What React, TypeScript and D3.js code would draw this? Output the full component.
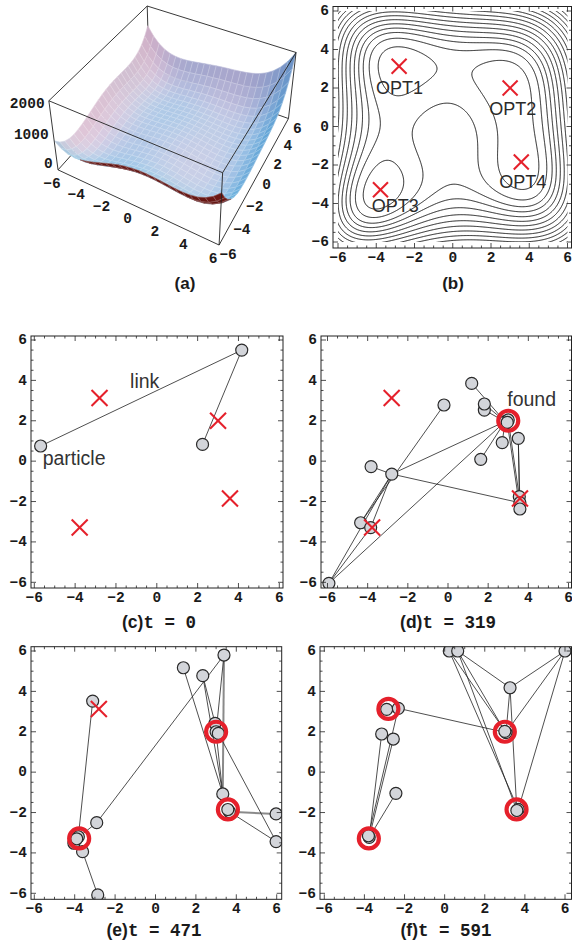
import React from "react";
import * as d3 from "d3";

const W = 572;
const H = 942;

// ---------- data ----------
const optX = [-2.805, 3.0, -3.779, 3.584];
const optY = [3.131, 2.0, -3.283, -1.848];
const optNames = ["OPT1", "OPT2", "OPT3", "OPT4"];
const axisTicks = [-6, -4, -2, 0, 2, 4, 6];
const zTicks = [0, 1000, 2000];
const contourLevels = [55, 128, 200, 270, 352, 445, 549, 664, 790, 927, 1073, 1232, 1400, 1580, 1770, 1970, 2180];

// (c) t = 0
const cX = [-5.69, 4.16, 2.24];
const cY = [0.75, 5.5, 0.83];
const cLinks = [[0, 1], [1, 2]];
const cFound: number[] = [];

// (d) t = 319
const dX = [-5.93, -4.35, -3.85, -3.83, -2.8, -0.2, 1.18, 1.81, 1.81, 2.7, 3.5, 1.63, 2.84, 3.0, 3.55, 3.58, 3.58, 2.95];
const dY = [-6.05, -3.05, -3.29, -0.27, -0.64, 2.78, 3.85, 2.53, 2.83, 0.92, 1.13, 0.09, 1.96, 2.04, -1.76, -2.06, -2.37, 1.92];
const dLinks = [[0, 4], [0, 2], [0, 12], [1, 4], [2, 4], [5, 1], [3, 4], [4, 12], [4, 15], [6, 12], [8, 12], [7, 12], [11, 12], [9, 12], [10, 14], [10, 15], [13, 14], [17, 16]];
const dFound = [1];

// (e) t = 471
const eX = [-3.11, 1.38, 2.34, 3.39, 2.95, 3.0, 3.11, 3.33, 3.66, 5.97, 5.97, -2.91, -3.82, -4.04, -3.61, -2.86, 3.58, -3.9];
const eY = [3.52, 5.17, 4.78, 5.8, 2.42, 2.0, 1.92, -1.08, -1.96, -2.07, -3.44, -2.5, -3.2, -3.52, -3.94, -6.08, -1.85, -3.3];
const eLinks = [[0, 12], [11, 3], [17, 11], [13, 14], [14, 15], [1, 7], [2, 4], [2, 7], [3, 5], [6, 10], [8, 10], [4, 7]];
const eGrayLinks = [[3, 7], [8, 9]];
const eFound = [1, 2, 3];

// (f) t = 591
const fX = [0.23, 0.65, 6.0, 3.26, -2.89, -2.31, -3.14, -2.56, -2.43, 3.06, 3.67, -3.76, 3.0, 3.6, -3.8];
const fY = [6.0, 6.0, 6.0, 4.18, 3.11, 3.16, 1.89, 1.64, -1.05, 1.96, -1.84, -3.23, 2.02, -1.9, -3.15];
const fLinks = [[5, 9], [6, 11], [7, 11], [5, 14], [8, 11], [0, 9], [1, 12], [0, 10], [1, 13], [1, 3], [2, 3], [2, 9], [2, 10], [3, 9], [3, 13]];
const fFound = [0, 1, 2, 3];

// the plotted objective (Himmelblau function)
const objective = (x: number, y: number) => (x * x + y - 11) ** 2 + (x + y * y - 7) ** 2;

// ---------- styles ----------
const RED = "#e5202b";
const MONO = "'Liberation Mono', 'Courier New', monospace";
const SANS = "'Liberation Sans', Arial, sans-serif";
const TICK_FS = 14.5;

const fmt = (v: number) => (v < 0 ? "\u2212" + Math.abs(v) : String(v));

type Cfg = { fx0: number; fx1: number; fy0: number; fy1: number; ax0: number; ax1: number; ay0: number; ay1: number };

const cfgB: Cfg = { fx0: 333, fx1: 571.5, fy0: 6.5, fy1: 248, ax0: 338, ax1: 567.5, ay0: 242, ay1: 11 };
const cfgC: Cfg = { fx0: 31, fx1: 283, fy0: 336, fy1: 588, ax0: 34.3, ax1: 279.3, ay0: 582.3, ay1: 340 };
const cfgD: Cfg = { fx0: 321, fx1: 571.5, fy0: 336, fy1: 588, ax0: 327.5, ax1: 568.5, ay0: 582.3, ay1: 340 };
const cfgE: Cfg = { fx0: 31, fx1: 281.7, fy0: 646.7, fy1: 899.3, ax0: 34.3, ax1: 276.7, ay0: 893.3, ay1: 651 };
const cfgF: Cfg = { fx0: 320, fx1: 571.5, fy0: 646.7, fy1: 899.3, ax0: 324.3, ax1: 565, ay0: 893.3, ay1: 651 };

function scales(c: Cfg) {
  return {
    sx: d3.scaleLinear().domain([-6, 6]).range([c.ax0, c.ax1]),
    sy: d3.scaleLinear().domain([-6, 6]).range([c.ay0, c.ay1]),
  };
}

function Frame({ c }: { c: Cfg }) {
  const { sx, sy } = scales(c);
  const minors = d3.range(-6, 6.001, 0.5).filter((v) => Math.abs(v % 2) > 1e-6);
  const els: any[] = [];
  const tick = (v: number, len: number, key: string) => {
    const x = sx(v), y = sy(v);
    els.push(<line key={key + "b"} x1={x} x2={x} y1={c.fy1} y2={c.fy1 - len} />);
    els.push(<line key={key + "t"} x1={x} x2={x} y1={c.fy0} y2={c.fy0 + len} />);
    els.push(<line key={key + "l"} x1={c.fx0} x2={c.fx0 + len} y1={y} y2={y} />);
    els.push(<line key={key + "r"} x1={c.fx1} x2={c.fx1 - len} y1={y} y2={y} />);
  };
  axisTicks.forEach((v, i) => tick(v, 5, "M" + i));
  minors.forEach((v, i) => tick(v, 2.5, "m" + i));
  return (
    <g>
      <g stroke="#222" strokeWidth={0.8}>{els}</g>
      <rect x={c.fx0} y={c.fy0} width={c.fx1 - c.fx0} height={c.fy1 - c.fy0} fill="none" stroke="#222" strokeWidth={1} />
      <g fontFamily={MONO} fontWeight="bold" fontSize={TICK_FS} fill="#1a1a1a">
        {axisTicks.map((v) => (
          <text key={"xl" + v} x={sx(v)} y={c.fy1 + 14} textAnchor="middle">{fmt(v)}</text>
        ))}
        {axisTicks.map((v) => (
          <text key={"yl" + v} x={c.fx0 - 4} y={sy(v) + 4.3} textAnchor="end">{fmt(v)}</text>
        ))}
      </g>
    </g>
  );
}

function Cross({ x, y, s }: { x: number; y: number; s: number }) {
  return (
    <g stroke={RED} strokeWidth={2}>
      <line x1={x - s} y1={y - s} x2={x + s} y2={y + s} />
      <line x1={x - s} y1={y + s} x2={x + s} y2={y - s} />
    </g>
  );
}

function ScatterPanel(props: {
  c: Cfg; id: string; px: number[]; py: number[]; links: number[][]; grayLinks?: number[][]; found: number[];
  cap: string; tcap: string; capX: number; capY: number; notes?: { t: string; x: number; y: number }[];
}) {
  const { c, id, px, py, links, found } = props;
  const { sx, sy } = scales(c);
  const notFound = optX.map((_, i) => i).filter((i) => !found.includes(i));
  return (
    <g>
      <defs>
        <clipPath id={id}>
          <rect x={c.fx0} y={c.fy0} width={c.fx1 - c.fx0} height={c.fy1 - c.fy0} />
        </clipPath>
      </defs>
      <g clipPath={`url(#${id})`}>
        <g stroke="#8a8a8a" strokeWidth={2}>
          {(props.grayLinks || []).map(([a, b], i) => (
            <line key={i} x1={sx(px[a])} y1={sy(py[a])} x2={sx(px[b])} y2={sy(py[b])} />
          ))}
        </g>
        <g stroke="#222" strokeWidth={0.8}>
          {links.map(([a, b], i) => (
            <line key={i} x1={sx(px[a])} y1={sy(py[a])} x2={sx(px[b])} y2={sy(py[b])} />
          ))}
        </g>
        {px.map((_, i) => (
          <circle key={i} cx={sx(px[i])} cy={sy(py[i])} r={6} fill="#d3d5da" stroke="#2a2a2a" strokeWidth={1.2} />
        ))}
        {notFound.map((i) => (
          <Cross key={i} x={sx(optX[i])} y={sy(optY[i])} s={8} />
        ))}
        {found.map((i) => (
          <circle key={"f" + i} cx={sx(optX[i])} cy={sy(optY[i])} r={10} fill="none" stroke={RED} strokeWidth={4.2} />
        ))}
      </g>
      <Frame c={c} />
      {(props.notes || []).map((n, i) => (
        <text key={i} x={sx(n.x)} y={sy(n.y)} fontFamily={SANS} fontSize={19.5} fill="#333">{n.t}</text>
      ))}
      <text x={props.capX} y={props.capY} textAnchor="middle" fontWeight="bold" fontSize={17.5} fill="#1a1a1a">
        <tspan fontFamily={SANS}>{props.cap}</tspan>
        <tspan fontFamily={MONO}>{props.tcap}</tspan>
      </text>
    </g>
  );
}

function ContourPanel() {
  const c = cfgB;
  const { sx, sy } = scales(c);
  const step = 0.04;
  const g0 = -6.2;
  const n = Math.round(12.4 / step) + 1;
  const vals = new Array(n * n);
  for (let j = 0; j < n; j++) {
    const y = g0 + j * step;
    for (let i = 0; i < n; i++) vals[j * n + i] = objective(g0 + i * step, y);
  }
  const cs = d3.contours().size([n, n]).thresholds(contourLevels)(vals);
  const tr = d3.geoTransform({
    point: function (this: any, x: number, y: number) {
      this.stream.point(sx(g0 + (x - 0.5) * step), sy(g0 + (y - 0.5) * step));
    },
  });
  const path = d3.geoPath(tr as any);
  const labelPos = [[-4.01, 1.69], [1.91, 0.6], [-4.24, -4.43], [2.43, -3.21]];
  return (
    <g>
      <defs>
        <clipPath id="clipB">
          <rect x={sx(-6)} y={sy(6)} width={sx(6) - sx(-6)} height={sy(-6) - sy(6)} />
        </clipPath>
      </defs>
      <g clipPath="url(#clipB)" fill="none" stroke="#1e1e1e" strokeWidth={1}>
        {cs.map((g, i) => (
          <path key={i} d={path(g as any) || ""} />
        ))}
      </g>
      {optX.map((_, i) => (
        <Cross key={i} x={sx(optX[i])} y={sy(optY[i])} s={7.5} />
      ))}
      {optNames.map((t, i) => (
        <text key={t} x={sx(labelPos[i][0])} y={sy(labelPos[i][1])} fontFamily={SANS} fontSize={18} fill="#2a2a2a">{t}</text>
      ))}
      <Frame c={c} />
      <text x={453} y={289} textAnchor="middle" fontFamily={SANS} fontWeight="bold" fontSize={17} fill="#1a1a1a">(b)</text>
    </g>
  );
}

// ---------- 3D surface ----------
type V3 = [number, number, number];
const sub = (a: V3, b: V3): V3 => [a[0] - b[0], a[1] - b[1], a[2] - b[2]];
const dot = (a: V3, b: V3) => a[0] * b[0] + a[1] * b[1] + a[2] * b[2];
const cross = (a: V3, b: V3): V3 => [a[1] * b[2] - a[2] * b[1], a[2] * b[0] - a[0] * b[2], a[0] * b[1] - a[1] * b[0]];
const unit = (a: V3): V3 => {
  const l = Math.hypot(a[0], a[1], a[2]);
  return [a[0] / l, a[1] / l, a[2] / l];
};

function SurfacePanel() {
  const VP: V3 = [1.3, -2.4, 2];
  const ZLO = -120, ZHI = 2186;
  const KX = 594, KY = 708, CX = 178.6, CY = 110.4;
  const FWD = unit([-VP[0], -VP[1], -VP[2]]);
  const RIGHT = unit(cross(FWD, [0, 0, 1]));
  const UP = cross(RIGHT, FWD);
  const zs = d3.scaleLinear().domain([ZLO, ZHI]).range([-0.2, 0.2]);
  const toBox = (x: number, y: number, z: number): V3 => [x / 12, y / 12, zs(z)];
  const proj = (p: V3) => {
    const d = sub(p, VP);
    const depth = dot(d, FWD);
    return [CX + (KX * dot(d, RIGHT)) / depth, CY - (KY * dot(d, UP)) / depth, depth];
  };
  const N = 25;
  const gx = d3.range(N).map((i) => -6 + (12 * i) / (N - 1));
  const P: V3[][] = gx.map((x) => gx.map((y) => toBox(x, y, objective(x, y))));
  const quads: { d: string; depth: number; fill: string; stroke: string }[] = [];
  const cl = (v: number) => Math.max(0, Math.min(255, Math.round(v)));
  const tint: V3 = [196, 200, 226];
  for (let i = 0; i < N - 1; i++) {
    for (let j = 0; j < N - 1; j++) {
      const p00 = P[i][j], p10 = P[i + 1][j], p11 = P[i + 1][j + 1], p01 = P[i][j + 1];
      const nrm = unit(cross(sub(p11, p00), sub(p01, p10)));
      const cen: V3 = [
        (p00[0] + p10[0] + p11[0] + p01[0]) / 4,
        (p00[1] + p10[1] + p11[1] + p01[1]) / 4,
        (p00[2] + p10[2] + p11[2] + p01[2]) / 4,
      ];
      const vd = unit(sub(cen, VP));
      const facing = -dot(nrm, vd);
      const nr = dot(nrm, RIGHT), nu = dot(nrm, UP);
      let r: number, g: number, b: number;
      if (facing > 0.0) {
        r = 4.5 + 81.6 * nr + 76.5 * nu + 189.2 * facing;
        g = 92.9 + 31.9 * nr + 88.2 * nu + 65.9 * facing;
        b = 150.3 + 2 * nr + 72.5 * nu + 39.3 * facing;
        r = Math.min(255, r); g = Math.min(255, g); b = Math.min(255, b);
        const w = 0.34;
        r = r * (1 - w) + tint[0] * w;
        g = g * (1 - w) + tint[1] * w;
        b = b * (1 - w) + tint[2] * w;
      } else {
        const k = 0.8 + 0.4 * Math.min(1, -facing);
        r = 118 * k; g = 26 * k; b = 22 * k;
      }
      const fill = `rgb(${cl(r)},${cl(g)},${cl(b)})`;
      const stroke = `rgb(${cl(r + (255 - r) * 0.3)},${cl(g + (255 - g) * 0.3)},${cl(b + (255 - b) * 0.3)})`;
      const pts = [p00, p10, p11, p01].map((p) => proj(p));
      quads.push({
        d: "M" + pts.map((p) => p[0].toFixed(2) + "," + p[1].toFixed(2)).join("L") + "Z",
        depth: proj(cen)[2],
        fill,
        stroke,
      });
    }
  }
  quads.sort((a, b) => b.depth - a.depth);
  const corner = (x: number, y: number, z: number) => proj(toBox(x, y, z));
  const C = {
    FLB: corner(-6, -6, ZLO), FRB: corner(6, -6, ZLO), BRB: corner(6, 6, ZLO), BLB: corner(-6, 6, ZLO),
    FLT: corner(-6, -6, ZHI), FRT: corner(6, -6, ZHI), BRT: corner(6, 6, ZHI), BLT: corner(-6, 6, ZHI),
  } as Record<string, number[]>;
  const edge = (a: string, b: string, k: string) => (
    <line key={k} x1={C[a][0]} y1={C[a][1]} x2={C[b][0]} y2={C[b][1]} />
  );
  return (
    <g>
      <g stroke="#222" strokeWidth={0.9}>
        {edge("BLB", "BRB", "h1")}
        {edge("BLB", "FLB", "h2")}
        {edge("BLB", "BLT", "h3")}
      </g>
      <g strokeWidth={0.6} strokeLinejoin="round">
        {quads.map((q, i) => (
          <path key={i} d={q.d} fill={q.fill} stroke={q.stroke} />
        ))}
      </g>
      <g stroke="#222" strokeWidth={0.9}>
        {edge("FLB", "FRB", "v1")}
        {edge("FRB", "BRB", "v2")}
        {edge("FLB", "FLT", "v3")}
        {edge("FRB", "FRT", "v4")}
        {edge("BRB", "BRT", "v5")}
        {edge("FLT", "FRT", "v6")}
        {edge("FRT", "BRT", "v7")}
        {edge("BRT", "BLT", "v8")}
        {edge("BLT", "FLT", "v9")}
      </g>
      <g fontFamily={MONO} fontWeight="bold" fontSize={TICK_FS} fill="#1a1a1a">
        {zTicks.map((z) => {
          const p = corner(-6, -6, z);
          return (
            <text key={"z" + z} x={p[0] - 5} y={p[1] + 1} textAnchor="end">{String(z)}</text>
          );
        })}
        {axisTicks.map((x) => {
          const p = corner(x, -6, ZLO);
          return (
            <text key={"x" + x} x={p[0] - 6} y={p[1] + 18} textAnchor="middle">{fmt(x)}</text>
          );
        })}
        {axisTicks.map((y) => {
          const p = corner(6, y, ZLO);
          return (
            <text key={"y" + y} x={p[0] + 9} y={p[1] + 14} textAnchor="middle">{fmt(y)}</text>
          );
        })}
      </g>
      <text x={185} y={289} textAnchor="middle" fontFamily={SANS} fontWeight="bold" fontSize={17} fill="#1a1a1a">(a)</text>
    </g>
  );
}

export default function App() {
  return (
    <svg width={W} height={H} viewBox={`0 0 ${W} ${H}`} style={{ position: "absolute", left: 0, top: 0, background: "#fff" }}>
      <rect width={W} height={H} fill="#fff" />
      <SurfacePanel />
      <ContourPanel />
      <ScatterPanel c={cfgC} id="clipC" px={cX} py={cY} links={cLinks} found={cFound} cap="(c)" tcap="t = 0" capX={159} capY={628}
        notes={[{ t: "link", x: -1.31, y: 3.62 }, { t: "particle", x: -5.59, y: -0.19 }]} />
      <ScatterPanel c={cfgD} id="clipD" px={dX} py={dY} links={dLinks} found={dFound} cap="(d)" tcap="t = 319" capX={448} capY={628}
        notes={[{ t: "found", x: 2.95, y: 2.73 }]} />
      <ScatterPanel c={cfgE} id="clipE" px={eX} py={eY} links={eLinks} grayLinks={eGrayLinks} found={eFound} cap="(e)" tcap="t = 471" capX={154} capY={936} />
      <ScatterPanel c={cfgF} id="clipF" px={fX} py={fY} links={fLinks} found={fFound} cap="(f)" tcap="t = 591" capX={446} capY={936} />
    </svg>
  );
}
